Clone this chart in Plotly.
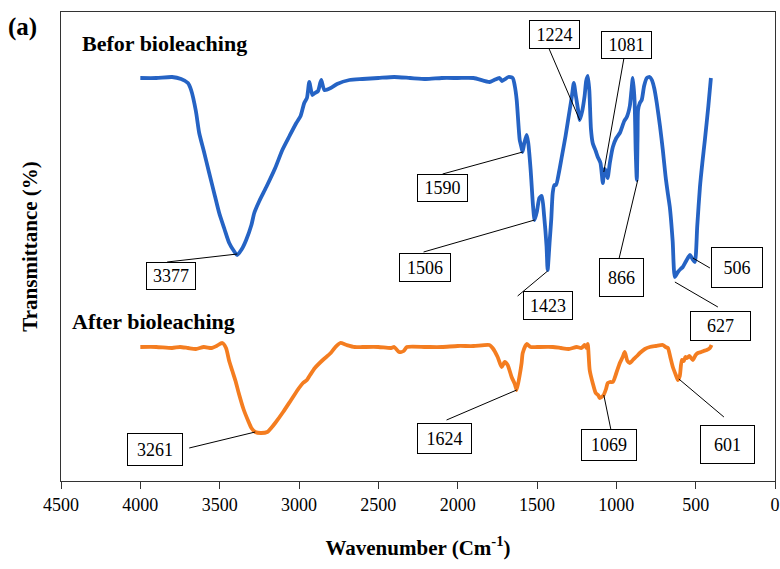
import plotly.graph_objects as go

# ---------------- data (transmittance, arbitrary units) ----------------
before_wn = [4000, 3900, 3800, 3743, 3700, 3680, 3650, 3629, 3600, 3566, 3530, 3503, 3470, 3440,
             3410, 3390, 3360, 3333, 3300, 3282, 3250, 3206, 3150, 3105, 3060, 3017, 2990, 2967,
             2950, 2935, 2916, 2900, 2880, 2860, 2840, 2800, 2760, 2682, 2600, 2500, 2400, 2300,
             2200, 2100, 2000, 1900, 1799, 1770, 1736, 1720, 1700, 1680, 1653, 1640, 1628, 1609,
             1600, 1591, 1580, 1565, 1555, 1540, 1525, 1515, 1500, 1485, 1470, 1455, 1440, 1433,
             1420, 1410, 1401, 1390, 1380, 1360, 1344, 1320, 1294, 1280, 1268, 1255, 1240, 1231,
             1215, 1200, 1190, 1180, 1170, 1160, 1149, 1130, 1117, 1100, 1085, 1075, 1065, 1055,
             1041, 1022, 1000, 978, 950, 934, 915, 905, 896, 885, 878, 871, 866, 863, 852, 840,
             825, 808, 790, 776, 760, 745, 725, 707, 690, 675, 663, 645, 631, 612, 595, 581, 560,
             536, 520, 505, 490, 473, 458, 442, 420, 404]
before_t = [403, 403, 404, 402, 398, 391, 370, 348, 330, 308, 285, 268, 252, 238,
            230, 226, 232, 241, 256, 268, 280, 294, 313, 331, 345, 358, 365, 378,
            383, 399, 386, 388, 390, 401, 391, 393, 397, 401, 402, 403, 404, 403,
            402, 403, 403, 403, 399, 401, 403, 400, 402, 404, 403, 395, 381, 341,
            335, 329, 338, 346, 338, 311, 275, 261, 270, 283, 285, 265, 235, 211,
            240, 262, 288, 296, 296, 310, 324, 345, 371, 385, 398, 385, 370, 361,
            370, 385, 400, 405, 390, 352, 338, 330, 324, 318, 298, 312, 310, 303,
            318, 334, 343, 348, 360, 364, 375, 390, 403, 380, 330, 301, 345, 371, 378, 381,
            395, 403, 404, 401, 392, 378, 355, 331, 305, 287, 274, 240, 204, 209, 212, 214, 220,
            226, 222, 219, 255, 294, 318, 341, 375, 403]

after_wn = [4000, 3900, 3800, 3750, 3700, 3650, 3600, 3550, 3520, 3484, 3460, 3440, 3420, 3400,
            3380, 3350, 3320, 3300, 3276, 3240, 3200, 3170, 3150, 3100, 3050, 3000, 2975, 2950,
            2930, 2900, 2850, 2800, 2770, 2740, 2700, 2650, 2600, 2500, 2420, 2400, 2370, 2340,
            2320, 2200, 2100, 2000, 1900, 1800, 1780, 1748, 1723, 1704, 1685, 1660, 1640, 1628,
            1610, 1597, 1590, 1565, 1540, 1500, 1400, 1350, 1300, 1250, 1220, 1200, 1187, 1180,
            1168, 1149, 1130, 1115, 1105, 1093, 1080, 1065, 1054, 1040, 1022, 1000, 978, 960,
            947, 930, 915, 896, 870, 852, 820, 789, 750, 707, 690, 675, 660, 644, 625, 612, 600,
            587, 575, 565, 555, 540, 518, 500, 486, 465, 450, 430, 410, 400]
after_t = [134, 134, 133, 134, 133, 132, 134, 133, 135, 138, 133, 120, 110, 100,
           88, 72, 60, 53, 49, 48, 49, 54, 58, 69, 81, 93, 98, 101,
           106, 113, 121, 128, 134, 138, 136, 134, 134, 134, 133, 134, 129, 130,
           134, 134, 134, 135, 135, 136, 133, 124, 114, 119, 116, 104, 97, 91,
           105, 118, 128, 137, 134, 134, 134, 133, 132, 134, 133, 136, 133, 137,
           111, 98, 88, 86, 83, 84, 86, 92, 98, 99, 99, 108, 118, 124,
           129, 120, 118, 121, 125, 128, 132, 134, 135, 136, 134, 133, 124, 114, 106, 101, 105,
           121, 120, 124, 123, 125, 121, 126, 128, 129, 130, 131, 133, 136]

tick_vals = [4500, 4000, 3500, 3000, 2500, 2000, 1500, 1000, 500, 0]
tick_text = ["4500", "4000", "3500", "3000", "2500", "2000", "1500", "1000", "500", "0"]

# peak labels
peak_labels = ["3377", "1590", "1506", "1423", "1224", "1081", "866", "506", "627",
               "3261", "1624", "1069", "601"]
peak_wn = [3389, 1590, 1515, 1433, 1231, 1079, 865, 518, 631,
           3276, 1628, 1079, 606]
peak_t = [227, 329, 261, 210, 361, 309, 301, 223, 199,
          49, 91, 86, 102]

# ---------------- layout helpers (positions / sizes) ----------------
box_wn = [3806, 2095, 2209, 1433, 1389, 934, 966, 240, 341, 3907, 2083, 1048, 297]
box_t = [205, 293, 214, 176, 447, 436, 204, 214, 155, 32, 43, 36, 37]
tail_wn = [3831, 2095, 2215, 1622, 1426, 953, 985, 410, 360, 3692, 2070, 1035, 322]
tail_t = [219, 307, 229, 185, 433, 422, 221, 213, 174, 33, 61, 52, 64]
box_w = [50, 51, 52, 50, 51, 51, 45, 52, 61, 56, 55, 56, 55]
box_h = [28, 28, 29, 29, 29, 28, 39, 41, 30, 33, 31, 32, 39]

SERIF = "Liberation Serif"
BLUE = "#2563c4"
ORANGE = "#f47d20"

fig = go.Figure()
fig.add_trace(go.Scatter(x=before_wn, y=before_t, mode="lines", name="Befor bioleaching",
                         line=dict(color=BLUE, width=3.8, shape="spline", smoothing=0.6),
                         showlegend=False, hoverinfo="skip"))
fig.add_trace(go.Scatter(x=after_wn, y=after_t, mode="lines", name="After bioleaching",
                         line=dict(color=ORANGE, width=3.8, shape="spline", smoothing=0.6),
                         showlegend=False, hoverinfo="skip"))

shapes = []
annotations = []
for i, lab in enumerate(peak_labels):
    shapes.append(dict(type="line", xref="x", yref="y",
                       x0=peak_wn[i], y0=peak_t[i], x1=tail_wn[i], y1=tail_t[i],
                       line=dict(color="black", width=1), layer="above"))
    annotations.append(dict(x=box_wn[i], y=box_t[i], xref="x", yref="y", text=lab,
                            showarrow=False, bgcolor="white", bordercolor="black",
                            borderwidth=1, borderpad=0, width=box_w[i] - 2,
                            height=box_h[i] - 2, align="center", valign="middle",
                            font=dict(family=SERIF, size=18, color="black")))

annotations += [
    dict(x=-0.077, y=0.968, xref="paper", yref="paper", text="<b>(a)</b>",
         showarrow=False, xanchor="left", yanchor="middle",
         font=dict(family=SERIF, size=25, color="black")),
    dict(x=0.0266, y=0.932, xref="paper", yref="paper", text="<b>Befor bioleaching</b>",
         showarrow=False, xanchor="left", yanchor="middle",
         font=dict(family=SERIF, size=22, color="black")),
    dict(x=0.0126, y=0.341, xref="paper", yref="paper", text="<b>After bioleaching</b>",
         showarrow=False, xanchor="left", yanchor="middle",
         font=dict(family=SERIF, size=22, color="black")),
]

fig.update_layout(
    width=780, height=569,
    margin=dict(l=61, r=5, t=12, b=88),
    paper_bgcolor="white", plot_bgcolor="white",
    font=dict(family=SERIF, color="black"),
    shapes=shapes, annotations=annotations,
    xaxis=dict(range=[4500, 0], tickvals=tick_vals, ticktext=tick_text,
               ticks="outside", ticklen=7, tickcolor="#333333", tickwidth=1.2,
               showline=True, linecolor="#333333", linewidth=1.2, mirror=True,
               showgrid=False, zeroline=False, automargin=False,
               tickfont=dict(family=SERIF, size=18, color="black"),
               title=dict(text="<b>Wavenumber (Cm<sup>-1</sup>)</b>", standoff=26,
                          font=dict(family=SERIF, size=21, color="black"))),
    yaxis=dict(range=[0, 469], showticklabels=False, ticks="",
               showline=True, linecolor="#333333", linewidth=1.2, mirror=True,
               showgrid=False, zeroline=False,
               title=dict(text="<b>Transmittance (%)</b>", standoff=16,
                          font=dict(family=SERIF, size=21, color="black"))),
)

fig.write_html("out.html")
